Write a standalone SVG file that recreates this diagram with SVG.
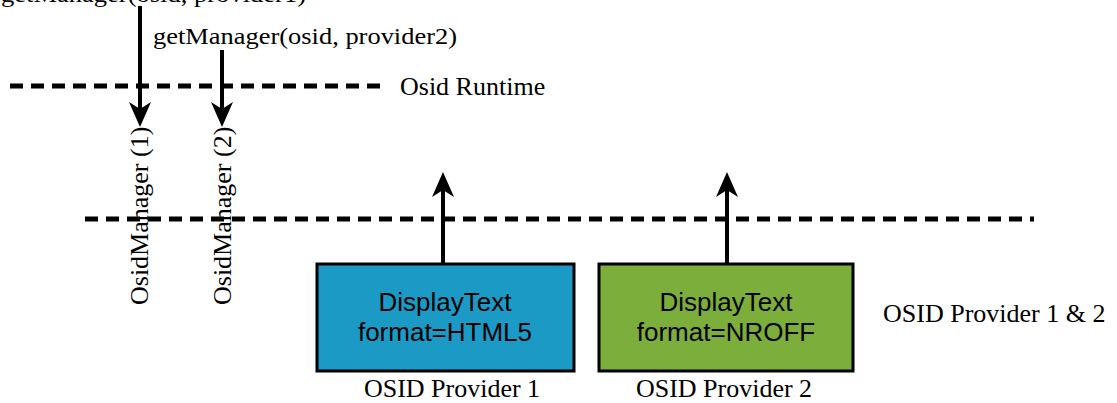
<svg xmlns="http://www.w3.org/2000/svg" width="1117" height="403" viewBox="0 0 1117 403">
<style>
.serif{font-family:"Liberation Serif","Times New Roman",serif;font-size:26px;fill:#000}
.sans{font-family:"Liberation Sans",Arial,sans-serif;font-size:26px;fill:#000;text-anchor:middle}
.dash{stroke:#000;stroke-width:5;stroke-dasharray:13 8;fill:none}
.shaft{stroke:#000;stroke-width:4;fill:none}
.head{fill:#000;stroke:none}
.box{stroke:#000;stroke-width:3}
</style>
<rect width="1117" height="403" fill="#fff"/>
<g id="layers">
<line class="dash" x1="10" y1="86" x2="388" y2="86"/>
<line class="dash" x1="85" y1="219" x2="1034" y2="219"/>
<text class="serif" x="400" y="95">Osid Runtime</text>
<text class="serif" x="883" y="322">OSID Provider 1 &amp; 2</text>
</g>
<g id="calls">
<text class="serif" x="1" y="2" style="font-size:23px" textLength="305" lengthAdjust="spacingAndGlyphs">getManager(osid, provider1)</text>
<text class="serif" x="153" y="44" style="font-size:23px" textLength="304" lengthAdjust="spacingAndGlyphs">getManager(osid, provider2)</text>
</g>
<g id="managers">
<text class="serif" transform="translate(148,305) rotate(-90)">OsidManager (1)</text>
<text class="serif" transform="translate(231,305) rotate(-90)">OsidManager (2)</text>
</g>
<g id="connectors">
<line class="shaft" x1="140" y1="6" x2="140" y2="112"/>
<polygon class="head" points="140,127 129,102 140,109 151,102"/>
<line class="shaft" x1="222" y1="50" x2="222" y2="112"/>
<polygon class="head" points="222,127 211,102 222,109 233,102"/>
<line class="shaft" x1="443" y1="263" x2="443" y2="188"/>
<polygon class="head" points="443,172 432,197 443,190 454,197"/>
<line class="shaft" x1="727" y1="263" x2="727" y2="188"/>
<polygon class="head" points="727,172 716,197 727,190 738,197"/>
</g>
<g id="provider1">
<rect class="box" x="317" y="264" width="257" height="107" fill="#1b9ac6"/>
<text class="sans" x="445" y="311">DisplayText</text>
<text class="sans" x="445" y="341">format=HTML5</text>
<text class="serif" x="452" y="397" text-anchor="middle">OSID Provider 1</text>
</g>
<g id="provider2">
<rect class="box" x="599" y="264" width="254" height="107" fill="#7bae3b"/>
<text class="sans" x="726" y="311">DisplayText</text>
<text class="sans" x="726" y="341">format=NROFF</text>
<text class="serif" x="724" y="397" text-anchor="middle">OSID Provider 2</text>
</g>
</svg>
